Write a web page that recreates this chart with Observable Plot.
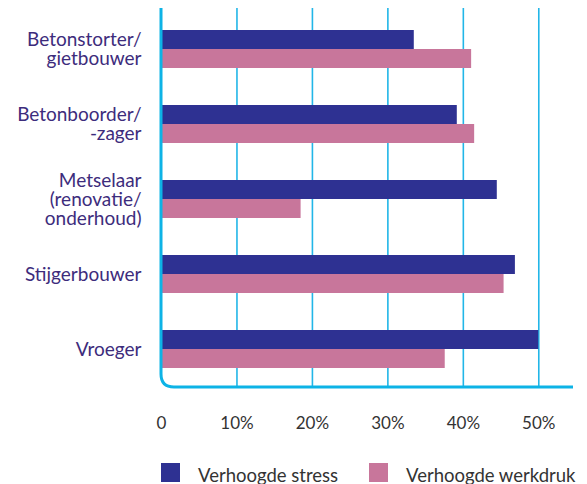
<!DOCTYPE html>
<html><head><meta charset="utf-8">
<script src="https://cdn.jsdelivr.net/npm/d3@7"></script>
<script src="https://cdn.jsdelivr.net/npm/@observablehq/plot@0.6"></script>
<style>
body{margin:0;background:#fff;font-family:Lato,sans-serif;}
#chart svg{display:block;}
#legend{display:flex;margin-left:161px;margin-top:23px;font-size:18.5px;color:#333;}
.item{display:flex;align-items:flex-start;}
.sw{width:19px;height:19px;margin-right:18px;flex:none;}
.lbl{line-height:19px;padding-top:3px;white-space:nowrap;}
</style></head><body><div id="chart"></div><div id="legend"></div>
<script>
const categories = ["Betonstorter/\ngietbouwer", "Betonboorder/\n-zager", "Metselaar\n(renovatie/\nonderhoud)", "Stijgerbouwer", "Vroeger"];
const stressValues = [33.5, 39.2, 44.5, 46.9, 50.0];
const werkdrukValues = [41.1, 41.5, 18.5, 45.4, 37.6];
const xTicks = [0, 10, 20, 30, 40, 50];
const seriesNames = ["Verhoogde stress", "Verhoogde werkdruk"];
const seriesColors = ["#2E3192", "#C8769B"];

const rows = categories.map((c, i) => ({category: c, stress: stressValues[i], werkdruk: werkdrukValues[i]}));
const W = 587, H = 440, mL = 161, mR = 14, mT = 8, mB = 53;
const cyan = "#0DB3E6";

const chart = Plot.plot({
  width: W, height: H, marginLeft: mL, marginRight: mR, marginTop: mT, marginBottom: mB,
  style: {fontFamily: "Lato, sans-serif", fontSize: "17px", color: "#333", background: "#fff"},
  x: {domain: [0, 54.6], ticks: xTicks, tickFormat: d => d === 0 ? "0" : d + "%", tickSize: 0, tickPadding: 29, label: null},
  y: {domain: categories, axis: null, paddingInner: 0.497, paddingOuter: 0.258, align: 0.54},
  marks: [
    Plot.ruleX(xTicks.filter(d => d > 0), {stroke: "#22B6E8", strokeWidth: 1.6}),
    Plot.barX(rows, {y: "category", x: "stress", fill: seriesColors[0], insetBottom: 19}),
    Plot.barX(rows, {y: "category", x: "werkdruk", fill: seriesColors[1], insetTop: 19}),
    Plot.text(rows, {y: "category", text: "category", frameAnchor: "left", textAnchor: "end", dx: -20, fill: "#3D2C7C", lineHeight: 1.0, fontSize: 19})
  ]
});
document.getElementById("chart").appendChild(chart);

// axis frame: left and bottom lines joined by a rounded corner
const fx0 = mL, fTop = mT, fBottom = H - mB, fRight = W - mR, fr = 13;
d3.select(chart).append("path")
  .attr("d", `M${fx0},${fTop}V${fBottom - fr}Q${fx0},${fBottom} ${fx0 + fr},${fBottom}H${fRight}`)
  .attr("fill", "none").attr("stroke", cyan).attr("stroke-width", 3);

const legend = d3.select("#legend");
seriesNames.forEach((name, i) => {
  const it = legend.append("div").attr("class", "item").style("width", i === 0 ? "208px" : null);
  it.append("div").attr("class", "sw").style("background", seriesColors[i]);
  it.append("div").attr("class", "lbl").text(name);
});
</script></body></html>
